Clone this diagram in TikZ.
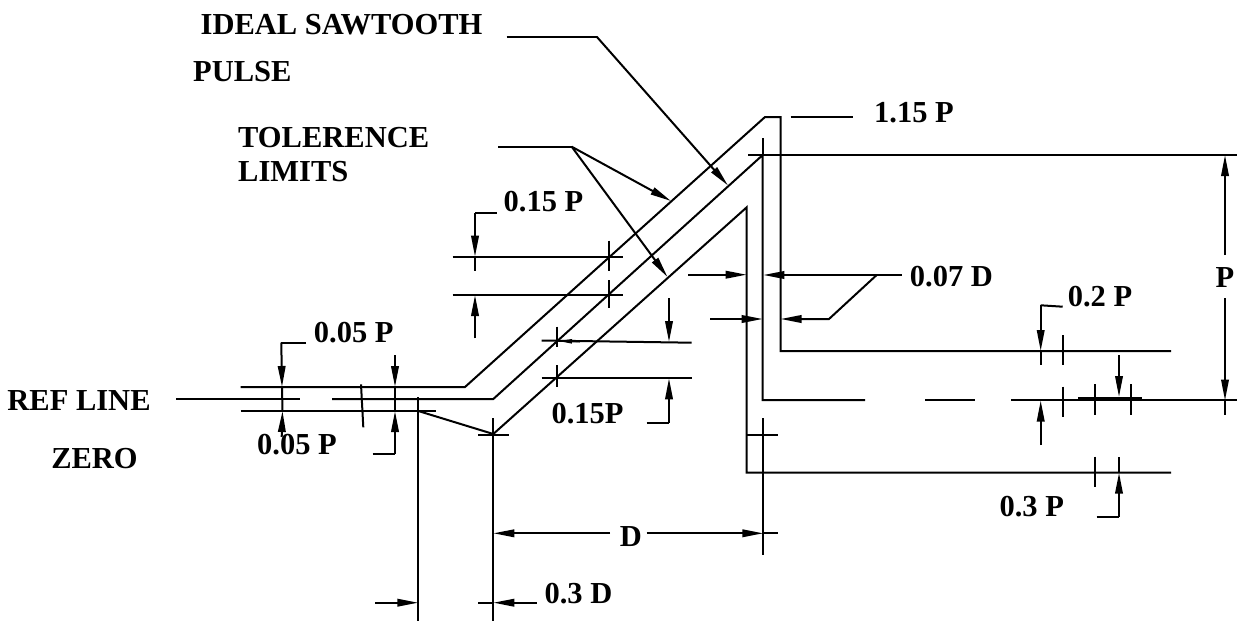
\documentclass[tikz,border=0pt]{standalone}
\usepackage{fontspec}
\setmainfont{Liberation Serif}
\usetikzlibrary{arrows.meta}
\begin{document}
\begin{tikzpicture}[x=1pt,y=-1pt,
  ln/.style={line width=2pt},
  arr/.style={ln,-{Triangle[length=21pt,width=7.5pt]}},
  thk/.style={line width=4pt},
  lbl/.style={inner sep=0pt,font=\bfseries\fontsize{30.5}{32}\selectfont}]
\useasboundingbox (0,0) rectangle (1237,621);
% ---------- labels ----------
\node[lbl] (ideal) at (341.5,25) {IDEAL SAWTOOTH};
\node[lbl,anchor=west] (pulse) at (193,72) {PULSE};
\node[lbl,anchor=west] (tol) at (238,137.5) {TOLERENCE};
\node[lbl,anchor=west] (lim) at (238,172) {LIMITS};
\node[lbl] (ref) at (79,401) {REF LINE};
\node[lbl] (zero) at (94.5,458.5) {ZERO};
\node[lbl] (p05a) at (353.7,333) {0.05 P};
\node[lbl] (p05b) at (297,445) {0.05 P};
\node[lbl] (p15a) at (543.5,201.7) {0.15 P};
\node[lbl] (p15b) at (587.5,413.3) {0.15P};
\node[lbl] (p115) at (914,113) {1.15 P};
\node[lbl] (d007) at (951.5,276.7) {0.07 D};
\node[lbl] (p02) at (1100,296.7) {0.2 P};
\node[lbl] (p03) at (1031.7,506.7) {0.3 P};
\node[lbl] (pP) at (1225,278) {P};
\node[lbl] (dD) at (631,536.7) {D};
\node[lbl] (d03) at (578.5,593.3) {0.3 D};
% ---------- key points ----------
\coordinate (u0) at (240.7,387);
\coordinate (u1) at (465,387);
\coordinate (u2) at (765,117);
\coordinate (u3) at (780.5,117);
\coordinate (u4) at (780.5,351);
\coordinate (u5) at (1171,351);
\coordinate (i0) at (332,399);
\coordinate (i1) at (493.3,399);
\coordinate (i2) at (762.7,155);
\coordinate (i3) at (762.7,400);
\coordinate (l0) at (240.7,411);
\coordinate (l1) at (435.7,411);
\coordinate (l2) at (418.3,411);
\coordinate (l3) at (493.3,434);
\coordinate (l4) at (746.7,207.3);
\coordinate (l5) at (746.7,472.7);
\coordinate (l6) at (1171,472.7);
% ---------- profiles ----------
\draw[ln] (u0) -- (u1) -- (u2) -- (u3) -- (u4) -- (u5);
\draw[ln] (i0) -- (i1) -- (i2) -- (i3) -- (865,400);
\draw[ln] (176,399) -- (300,399);
\draw[ln] (925,400) -- (975,400);
\draw[ln] (1011,400) -- (1237,400);
\draw[ln] (l0) -- (l1);
\draw[ln] (l2) -- (l3) -- (l4) -- (l5) -- (l6);
% ---------- extension lines ----------
\draw[ln] (418.3,397) -- (418.3,621);
\draw[ln] (493.3,418) -- (493.3,621);
\draw[ln] (478,434.5) -- (509,434.5);
\draw[ln] (748,155) -- (1237,155);
\draw[ln] (762.7,138) -- (i2);
\draw[ln] (763.3,418) -- (763.3,555);
\draw[ln] (746.7,434.5) -- (777.7,434.5);
\draw[ln] (790.7,116.7) -- (853.3,116.7);
% ---------- P ----------
\draw[arr] (1225,255) -- (1225,155);
\draw[arr] (1225,298) -- (1225,400.5);
\draw[ln] (1225,400) -- (1225,415);
% ---------- D ----------
\draw[arr] (610,533.3) -- (493.3,533.3);
\draw[arr] (646.7,533.3) -- (763.3,533.3);
\draw[ln] (763.3,533.3) -- (777.7,533.3);
% ---------- 0.3 D ----------
\draw[arr] (375,602.7) -- (418.3,602.7);
\draw[arr] (536.7,602.7) -- (493.3,602.7);
\draw[ln] (493.3,602.7) -- (478,602.7);
% ---------- 0.05 P left ----------
\draw[ln] (306,342.7) -- (281.3,342.7);
\draw[arr] (281.3,342.7) -- (282,387);
\draw[ln] (282,387) -- (282.5,411);
\draw[arr] (281.7,437) -- (282.5,411);
% ---------- 0.05 P right ----------
\draw[ln] (361,384.3) -- (363.3,427.3);
\draw[arr] (395,355) -- (395,387);
\draw[ln] (395,387) -- (395,411);
\draw[arr] (395,454.3) -- (395,411);
\draw[ln] (372.7,454.3) -- (395,454.3);
% ---------- 0.15 P upper ----------
\draw[ln] (496.7,212.7) -- (475,212.7);
\draw[arr] (475,212.7) -- (475,256.7);
\draw[ln] (475,256.7) -- (475,270.7);
\draw[ln] (452.7,256.7) -- (623.3,256.7);
\draw[ln] (452.7,295) -- (623.3,295);
\draw[ln] (609.3,240.7) -- (609.3,270.7);
\draw[ln] (609.3,280) -- (609.3,308.3);
\draw[arr] (475,338.3) -- (475,295);
% ---------- 0.15P lower ----------
\draw[ln] (541.7,340.5) -- (691.7,342.7);
\draw[ln,-{Triangle[length=15pt,width=4pt]}] (580,341.5) -- (557,341);
\draw[ln] (541.7,378.3) -- (691.7,378.3);
\draw[ln] (556.7,326.7) -- (556.7,346.7);
\draw[ln] (556.7,365) -- (556.7,386.7);
\draw[arr] (669,298.3) -- (669,342);
\draw[arr] (669,422.7) -- (669,378.3);
\draw[ln] (646.7,422.7) -- (669,422.7);
% ---------- 0.07 D ----------
\draw[arr] (688,274.7) -- (746.7,274.7);
\draw[arr] (901.7,275) -- (763.3,275);
\draw[arr] (710,319) -- (762.7,319);
\draw[arr] (876.7,275) -- (829,319) -- (780.5,319);
% ---------- 0.2 P ----------
\draw[ln] (1062.7,306.7) -- (1040.7,305.3);
\draw[arr] (1040.7,305.3) -- (1040.7,351);
\draw[ln] (1040.7,351) -- (1040.7,365);
\draw[ln] (1062.7,335) -- (1062.7,365);
\draw[arr] (1040.7,445) -- (1040.7,400.5);
\draw[ln] (1062.7,386.7) -- (1062.7,416.7);
\draw[ln] (1095,384) -- (1095,415);
\draw[ln] (1131,384) -- (1131,415);
\draw[thk] (1078,398.5) -- (1141.7,398.5);
\draw[arr] (1119,355) -- (1119,397);
% ---------- 0.3 P ----------
\draw[ln] (1095,456.7) -- (1095,486.7);
\draw[arr] (1119,516.7) -- (1119,472.7);
\draw[ln] (1119,472.7) -- (1119,456.7);
\draw[ln] (1096.7,516.7) -- (1119,516.7);
% ---------- leaders ----------
\coordinate (ldI) at (596.7,36.7);
\draw[ln] (506.7,36.7) -- (ldI);
\draw[arr] (ldI) -- (728,185.5);
\coordinate (ldT) at (571.7,146.7);
\draw[ln] (498,146.7) -- (ldT);
\draw[arr] (ldT) -- (671,201);
\draw[arr] (ldT) -- (667.5,277);
\end{tikzpicture}
\end{document}
